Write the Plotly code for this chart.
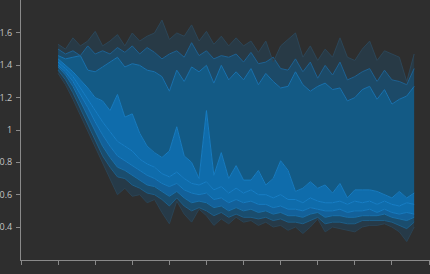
import plotly.graph_objects as go

steps = list(range(1000, 10601, 200))  # 49 training steps

p_max = [1.53, 1.50, 1.57, 1.52, 1.55, 1.61, 1.52, 1.55, 1.59, 1.52, 1.60, 1.55, 1.58, 1.60, 1.68, 1.56, 1.60, 1.58, 1.65, 1.55,
         1.61, 1.53, 1.58, 1.52, 1.57, 1.52, 1.55, 1.48, 1.55, 1.42, 1.52, 1.56, 1.60, 1.45, 1.52, 1.43, 1.50, 1.45, 1.57, 1.45,
         1.43, 1.50, 1.55, 1.43, 1.49, 1.47, 1.45, 1.30, 1.47]
p93 = [1.50, 1.47, 1.49, 1.46, 1.52, 1.47, 1.49, 1.47, 1.51, 1.48, 1.52, 1.47, 1.51, 1.48, 1.44, 1.47, 1.49, 1.45, 1.54, 1.46,
       1.49, 1.44, 1.46, 1.45, 1.47, 1.42, 1.48, 1.41, 1.42, 1.45, 1.38, 1.37, 1.44, 1.36, 1.42, 1.32, 1.40, 1.34, 1.42, 1.31,
       1.33, 1.36, 1.38, 1.30, 1.37, 1.31, 1.30, 1.28, 1.38]
p84 = [1.46, 1.44, 1.45, 1.46, 1.37, 1.36, 1.39, 1.42, 1.45, 1.39, 1.41, 1.40, 1.37, 1.36, 1.33, 1.24, 1.37, 1.30, 1.39, 1.36,
       1.40, 1.29, 1.40, 1.31, 1.36, 1.31, 1.38, 1.28, 1.35, 1.30, 1.26, 1.27, 1.36, 1.28, 1.24, 1.27, 1.29, 1.25, 1.26, 1.18,
       1.20, 1.25, 1.27, 1.19, 1.25, 1.16, 1.19, 1.21, 1.27]
p69 = [1.44, 1.40, 1.36, 1.31, 1.26, 1.20, 1.18, 1.12, 1.22, 1.08, 1.10, 0.98, 0.90, 0.86, 0.83, 0.87, 1.02, 0.84, 0.80, 0.70,
       1.12, 0.72, 0.86, 0.70, 0.78, 0.69, 0.69, 0.75, 0.66, 0.70, 0.81, 0.75, 0.62, 0.64, 0.68, 0.64, 0.66, 0.61, 0.67, 0.58,
       0.63, 0.63, 0.63, 0.62, 0.60, 0.58, 0.62, 0.58, 0.61]
p50 = [1.42, 1.38, 1.33, 1.26, 1.19, 1.12, 1.05, 0.99, 0.93, 0.90, 0.87, 0.82, 0.79, 0.77, 0.73, 0.71, 0.74, 0.70, 0.67, 0.66,
       0.68, 0.63, 0.65, 0.61, 0.64, 0.61, 0.63, 0.60, 0.60, 0.58, 0.60, 0.57, 0.57, 0.55, 0.58, 0.56, 0.55, 0.55, 0.56, 0.54,
       0.56, 0.55, 0.56, 0.54, 0.56, 0.54, 0.53, 0.55, 0.54]
p31 = [1.40, 1.36, 1.30, 1.22, 1.14, 1.05, 0.97, 0.90, 0.84, 0.81, 0.78, 0.75, 0.72, 0.70, 0.67, 0.65, 0.67, 0.63, 0.61, 0.60,
       0.61, 0.57, 0.58, 0.55, 0.57, 0.55, 0.56, 0.54, 0.54, 0.52, 0.53, 0.51, 0.51, 0.50, 0.52, 0.51, 0.50, 0.50, 0.51, 0.49,
       0.50, 0.50, 0.51, 0.49, 0.51, 0.49, 0.48, 0.49, 0.48]
p16 = [1.39, 1.34, 1.27, 1.18, 1.09, 0.99, 0.90, 0.83, 0.77, 0.75, 0.72, 0.69, 0.66, 0.65, 0.62, 0.59, 0.62, 0.58, 0.55, 0.56,
       0.55, 0.52, 0.53, 0.50, 0.52, 0.50, 0.51, 0.49, 0.50, 0.48, 0.49, 0.47, 0.47, 0.46, 0.48, 0.49, 0.46, 0.47, 0.47, 0.46,
       0.46, 0.47, 0.47, 0.47, 0.48, 0.46, 0.45, 0.44, 0.46]
p7 = [1.37, 1.31, 1.23, 1.13, 1.03, 0.94, 0.84, 0.77, 0.71, 0.70, 0.66, 0.64, 0.61, 0.60, 0.57, 0.53, 0.58, 0.53, 0.50, 0.52,
      0.50, 0.47, 0.49, 0.46, 0.48, 0.46, 0.46, 0.45, 0.46, 0.44, 0.45, 0.43, 0.43, 0.42, 0.44, 0.46, 0.42, 0.43, 0.43, 0.42,
      0.42, 0.44, 0.44, 0.44, 0.44, 0.43, 0.41, 0.39, 0.43]
p_min = [1.35, 1.28, 1.19, 1.09, 0.99, 0.90, 0.79, 0.70, 0.60, 0.64, 0.59, 0.60, 0.55, 0.57, 0.49, 0.42, 0.56, 0.48, 0.43, 0.51,
         0.47, 0.41, 0.45, 0.42, 0.46, 0.43, 0.44, 0.41, 0.43, 0.40, 0.41, 0.38, 0.40, 0.36, 0.40, 0.45, 0.37, 0.40, 0.39, 0.38,
         0.37, 0.40, 0.41, 0.41, 0.42, 0.40, 0.37, 0.31, 0.40]

y_ticks = [0.4, 0.6, 0.8, 1.0, 1.2, 1.4, 1.6]
y_tick_labels = ["0.4", "0.6", "0.8", "1", "1.2", "1.4", "1.6"]

series = [p_min, p7, p16, p31, p50, p69, p84, p93, p_max]
# fill colour of band between series[k-1] and series[k]
band_fill = [None, "#263a48", "#1a4d6e", "#13619a", "#0f6cab", "#0f6cab", "#135a85", "#1c4a68", "#283a46"]
line_col = ["#2a4354", "#1d5e88", "#1870aa", "#167cc2", "#167fc8", "#167cc2", "#1872b0", "#1d6294", "#2c4658"]

fig = go.Figure()
for k, s in enumerate(series):
    fig.add_trace(go.Scatter(
        x=steps, y=s, mode="lines",
        line=dict(color=line_col[k], width=1),
        fill=None if k == 0 else "tonexty",
        fillcolor=band_fill[k],
        hoverinfo="skip", showlegend=False))

axis_col = "#8a8a8a"
fig.update_layout(
    width=430, height=274,
    margin=dict(l=21, r=0, t=0, b=14),
    paper_bgcolor="#2e2e2e", plot_bgcolor="#2e2e2e",
    font=dict(family="Open Sans, Arial, sans-serif", size=9, color="#c4c4c4"),
    xaxis=dict(range=[0, 11027], dtick=1000, tick0=0, showgrid=False, zeroline=False,
               showline=True, linecolor=axis_col, linewidth=1,
               ticks="outside", ticklen=4, tickcolor=axis_col, showticklabels=False),
    yaxis=dict(range=[0.196, 1.804], tickvals=y_ticks, ticktext=y_tick_labels,
               showgrid=False, zeroline=False, showline=True, linecolor=axis_col, linewidth=1,
               ticks="outside", ticklen=4, tickcolor=axis_col, ticklabelstandoff=2),
)
fig.write_html("out.html")
